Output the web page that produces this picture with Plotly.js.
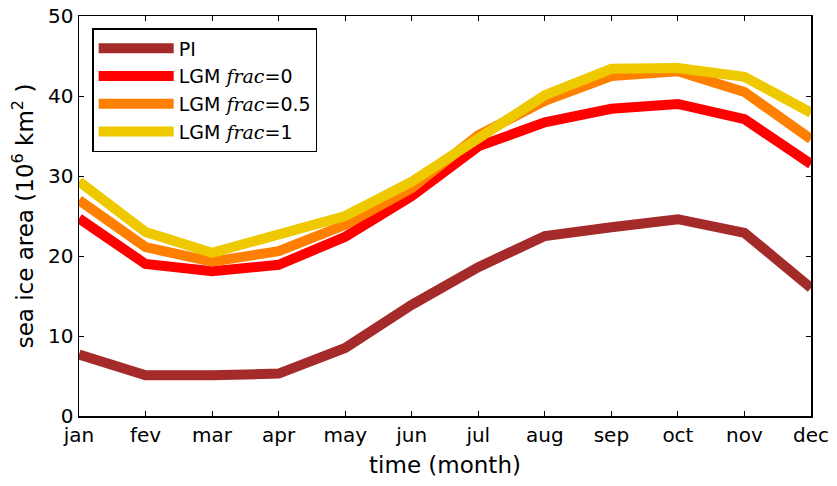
<!DOCTYPE html>
<html>
<head>
<meta charset="utf-8">
<script src="https://cdn.plot.ly/plotly-3.0.1.min.js"></script>
<style>html,body{margin:0;padding:0;background:#fff;}#chart{width:837px;height:486px;}</style>
</head>
<body>
<div id="chart"></div>
<script>
const months = ["jan","fev","mar","apr","may","jun","jul","aug","sep","oct","nov","dec"];
const pi     = [7.7, 5.1, 5.1, 5.3, 8.5, 13.9, 18.6, 22.5, 23.6, 24.6, 22.9, 16.0];
const lgm0   = [24.7, 19.0, 18.1, 18.9, 22.4, 27.5, 33.7, 36.7, 38.4, 39.0, 37.1, 31.5];
const lgm05  = [27.0, 21.1, 19.3, 20.6, 23.9, 28.5, 35.1, 39.4, 42.5, 43.1, 40.5, 34.6];
const lgm1   = [29.3, 23.0, 20.4, 22.6, 25.0, 29.3, 34.6, 40.1, 43.4, 43.5, 42.4, 37.9];
const names  = ["PI",
  "LGM <i><span style=\"font-family:'DejaVu Serif',serif\">frac</span></i>=0",
  "LGM <i><span style=\"font-family:'DejaVu Serif',serif\">frac</span></i>=0.5",
  "LGM <i><span style=\"font-family:'DejaVu Serif',serif\">frac</span></i>=1"];
const colors = ["#a52a2a", "#ff0000", "#ff8000", "#eec900"];
const series = [pi, lgm0, lgm05, lgm1];
const xIdx = months.map((m, i) => i);

const traces = series.map((s, k) => ({
  x: xIdx, y: s, type: "scatter", mode: "lines", name: names[k],
  line: {color: colors[k], width: 10}
}));

const axisCommon = {
  showgrid: false, zeroline: false, showline: true, linecolor: "#000", linewidth: 1.5,
  mirror: "ticks", ticks: "inside", ticklen: 5, tickcolor: "#000",
  tickfont: {family: "DejaVu Sans", size: 20, color: "#000"}
};

const layout = {
  width: 837, height: 486,
  margin: {l: 79, r: 26, t: 16, b: 70},
  paper_bgcolor: "#fff", plot_bgcolor: "#fff",
  showlegend: true,
  legend: {
    x: 0.018, y: 0.97, xanchor: "left", yanchor: "top",
    bordercolor: "#000", borderwidth: 1.5, bgcolor: "#fff",
    font: {family: "DejaVu Sans", size: 19, color: "#000"},
    itemwidth: 75, tracegroupgap: 0
  },
  xaxis: Object.assign({}, axisCommon, {
    range: [0, 11], tickvals: xIdx, ticktext: months,
    title: {text: "time (month)", font: {family: "DejaVu Sans", size: 23, color: "#000"}, standoff: 11}
  }),
  yaxis: Object.assign({}, axisCommon, {
    range: [0, 50], tickvals: [0, 10, 20, 30, 40, 50],
    title: {text: "sea ice area (10<sup>6</sup> km<sup>2</sup> )", font: {family: "DejaVu Sans", size: 23, color: "#000"}, standoff: 8}
  })
};

Plotly.newPlot("chart", traces, layout, {displayModeBar: false, staticPlot: true});
</script>
</body>
</html>
